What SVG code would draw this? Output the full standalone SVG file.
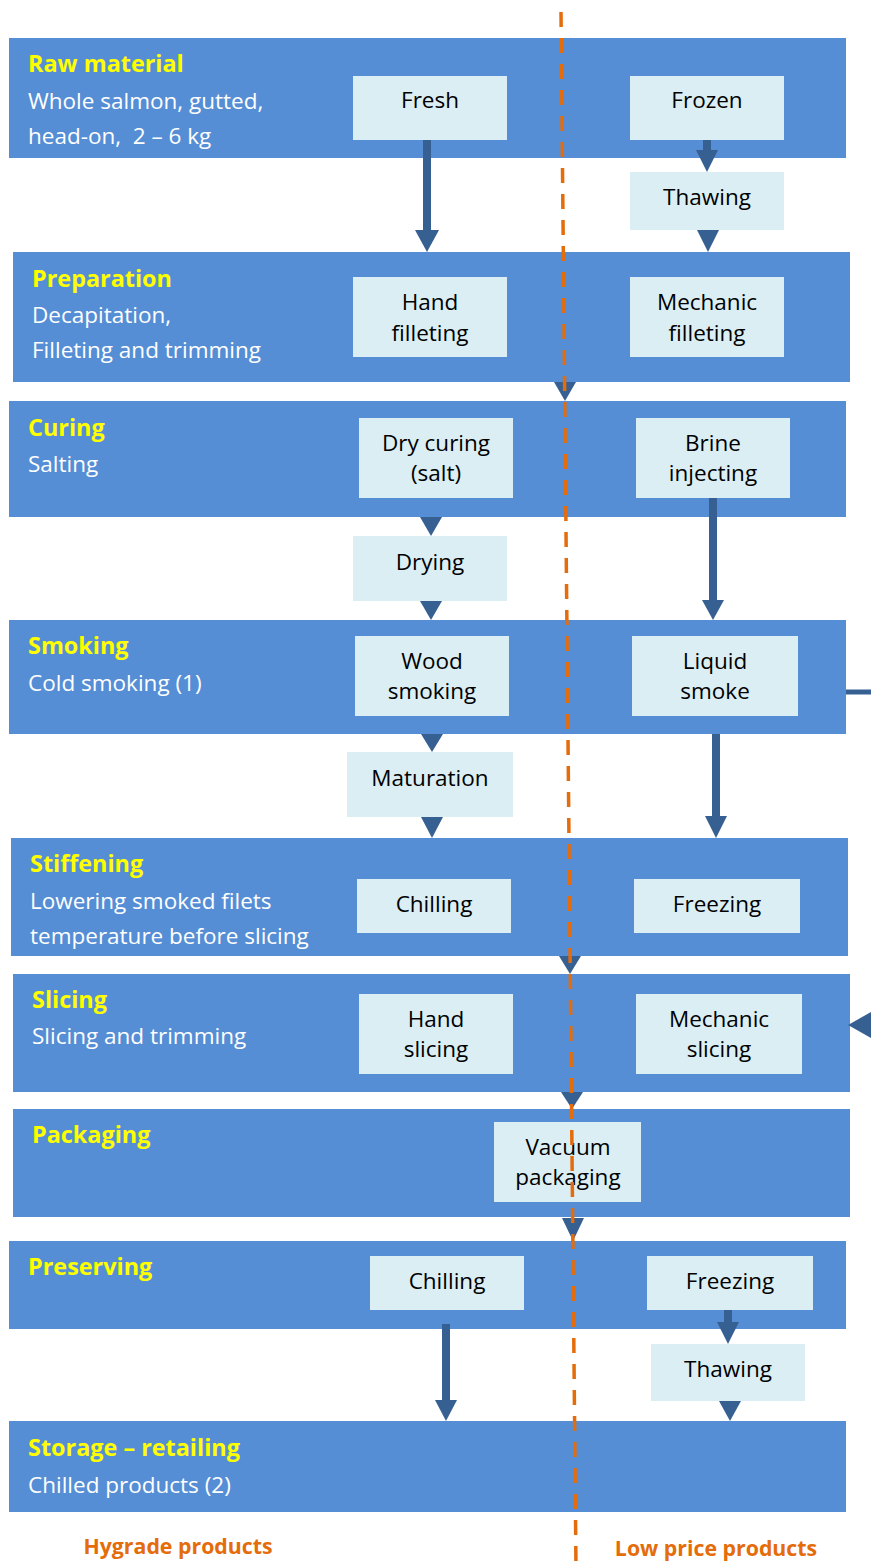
<svg xmlns="http://www.w3.org/2000/svg" width="871" height="1568" viewBox="0 0 871 1568">
<defs>
<style>
.band{fill:#558ED5}
.box{fill:#DBEEF4}
.ttl{font-family:"Open Sans","Liberation Sans",sans-serif;font-weight:bold;font-size:23.4px;fill:#FFFF00}
.sub{font-family:"Open Sans","Liberation Sans",sans-serif;font-size:22.5px;fill:#FFFFFF}
.bt{font-family:"Open Sans","Liberation Sans",sans-serif;font-size:22.5px;fill:#000000;text-anchor:middle}
.lbl{font-family:"Open Sans","Liberation Sans",sans-serif;font-weight:bold;font-size:21.3px;fill:#E46C0A;text-anchor:middle}
.ln{stroke:#376092;stroke-width:8;fill:none}
.hd{fill:#376092}
</style>
</defs>
<rect width="871" height="1568" fill="#FFFFFF"/>
<g id="band-raw"><rect class="band" x="9" y="38" width="837" height="120"/>
<text class="ttl" x="28" y="72">Raw material</text>
<text class="sub" x="28" y="109">Whole salmon, gutted,</text>
<text class="sub" x="28" y="144">head-on,&#160; 2 – 6 kg</text></g>
<g id="band-prep"><rect class="band" x="13" y="252" width="837" height="130"/>
<text class="ttl" x="32" y="287">Preparation</text>
<text class="sub" x="32" y="323">Decapitation,</text>
<text class="sub" x="32" y="358">Filleting and trimming</text></g>
<g id="band-curing"><rect class="band" x="9" y="401" width="837" height="116"/>
<text class="ttl" x="28" y="436">Curing</text>
<text class="sub" x="28" y="472">Salting</text></g>
<g id="band-smoking"><rect class="band" x="9" y="620" width="837" height="114"/>
<text class="ttl" x="28" y="654">Smoking</text>
<text class="sub" x="28" y="691">Cold smoking (1)</text></g>
<g id="band-stiff"><rect class="band" x="11" y="838" width="837" height="118"/>
<text class="ttl" x="30" y="872">Stiffening</text>
<text class="sub" x="30" y="909">Lowering smoked filets</text>
<text class="sub" x="30" y="944">temperature before slicing</text></g>
<g id="band-slicing"><rect class="band" x="13" y="974" width="837" height="118"/>
<text class="ttl" x="32" y="1008">Slicing</text>
<text class="sub" x="32" y="1044">Slicing and trimming</text></g>
<g id="band-pack"><rect class="band" x="13" y="1109" width="837" height="108"/>
<text class="ttl" x="32" y="1143">Packaging</text></g>
<g id="band-pres"><rect class="band" x="9" y="1241" width="837" height="88"/>
<text class="ttl" x="28" y="1275">Preserving</text></g>
<g id="band-storage"><rect class="band" x="9" y="1421" width="837" height="91"/>
<text class="ttl" x="28" y="1456">Storage – retailing</text>
<text class="sub" x="28" y="1493">Chilled products (2)</text></g>

<g id="fresh"><rect class="box" x="353" y="76" width="154" height="64"/><text class="bt" x="430" y="108">Fresh</text></g>
<g id="frozen"><rect class="box" x="630" y="76" width="154" height="64"/><text class="bt" x="707" y="108">Frozen</text></g>
<g id="thawing1"><rect class="box" x="630" y="172" width="154" height="58"/><text class="bt" x="707" y="205">Thawing</text></g>
<g id="handfillet"><rect class="box" x="353" y="277" width="154" height="80"/><text class="bt" x="430" y="310">Hand</text><text class="bt" x="430" y="341">filleting</text></g>
<g id="mechfillet"><rect class="box" x="630" y="277" width="154" height="80"/><text class="bt" x="707" y="310">Mechanic</text><text class="bt" x="707" y="341">filleting</text></g>
<g id="drycuring"><rect class="box" x="359" y="418" width="154" height="80"/><text class="bt" x="436" y="451">Dry curing</text><text class="bt" x="436" y="481">(salt)</text></g>
<g id="brine"><rect class="box" x="636" y="418" width="154" height="80"/><text class="bt" x="713" y="451">Brine</text><text class="bt" x="713" y="481">injecting</text></g>
<g id="drying"><rect class="box" x="353" y="536" width="154" height="65"/><text class="bt" x="430" y="570">Drying</text></g>
<g id="wood"><rect class="box" x="355" y="636" width="154" height="80"/><text class="bt" x="432" y="669">Wood</text><text class="bt" x="432" y="699">smoking</text></g>
<g id="liquid"><rect class="box" x="632" y="636" width="166" height="80"/><text class="bt" x="715" y="669">Liquid</text><text class="bt" x="715" y="699">smoke</text></g>
<g id="maturation"><rect class="box" x="347" y="752" width="166" height="65"/><text class="bt" x="430" y="786">Maturation</text></g>
<g id="chill1"><rect class="box" x="357" y="879" width="154" height="54"/><text class="bt" x="434" y="912">Chilling</text></g>
<g id="freeze1"><rect class="box" x="634" y="879" width="166" height="54"/><text class="bt" x="717" y="912">Freezing</text></g>
<g id="handslice"><rect class="box" x="359" y="994" width="154" height="80"/><text class="bt" x="436" y="1027">Hand</text><text class="bt" x="436" y="1057">slicing</text></g>
<g id="mechslice"><rect class="box" x="636" y="994" width="166" height="80"/><text class="bt" x="719" y="1027">Mechanic</text><text class="bt" x="719" y="1057">slicing</text></g>
<g id="vacuum"><rect class="box" x="494" y="1122" width="147" height="80"/><text class="bt" x="568" y="1155">Vacuum</text><text class="bt" x="568" y="1185">packaging</text></g>
<g id="chill2"><rect class="box" x="370" y="1256" width="154" height="54"/><text class="bt" x="447" y="1289">Chilling</text></g>
<g id="freeze2"><rect class="box" x="647" y="1256" width="166" height="54"/><text class="bt" x="730" y="1289">Freezing</text></g>
<g id="thawing2"><rect class="box" x="651" y="1344" width="154" height="57"/><text class="bt" x="728" y="1377">Thawing</text></g>

<g id="connectors">
<line class="ln" x1="427" y1="140" x2="427" y2="234"/><polygon class="hd" points="415,230 439,230 427,252"/>
<line class="ln" x1="707" y1="140" x2="707" y2="152"/><polygon class="hd" points="696,150 718,150 707,172"/>
<polygon class="hd" points="697,230 719,230 708,252"/>
<polygon class="hd" points="554,382 576,382 565,401"/>
<polygon class="hd" points="420,517 442,517 431,536"/>
<polygon class="hd" points="420,601 442,601 431,620"/>
<line class="ln" x1="713" y1="498" x2="713" y2="602"/><polygon class="hd" points="702,600 724,600 713,620"/>
<polygon class="hd" points="421,734 443,734 432,752"/>
<polygon class="hd" points="421,817 443,817 432,838"/>
<line class="ln" x1="716" y1="734" x2="716" y2="820"/><polygon class="hd" points="705,816 727,816 716,838"/>
<polygon class="hd" points="559,956 581,956 570,974"/>
<polygon class="hd" points="561,1092 583,1092 572,1109"/>
<polygon class="hd" points="562,1218 584,1218 573,1241"/>
<line class="ln" x1="446" y1="1324" x2="446" y2="1404"/><polygon class="hd" points="435,1400 457,1400 446,1421"/>
<line class="ln" x1="728" y1="1310" x2="728" y2="1324"/><polygon class="hd" points="717,1322 739,1322 728,1344"/>
<polygon class="hd" points="719,1401 741,1401 730,1421"/>
<line stroke="#376092" stroke-width="5" x1="846" y1="692" x2="871" y2="692"/>
<polygon class="hd" points="848,1025 871,1012 871,1038"/>
<line x1="561" y1="12" x2="576" y2="1568" stroke="#E46C0A" stroke-width="3.5" stroke-dasharray="15,11"/>
</g>
<text class="lbl" x="178" y="1554">Hygrade products</text>
<text class="lbl" x="716" y="1556">Low price products</text>
</svg>
